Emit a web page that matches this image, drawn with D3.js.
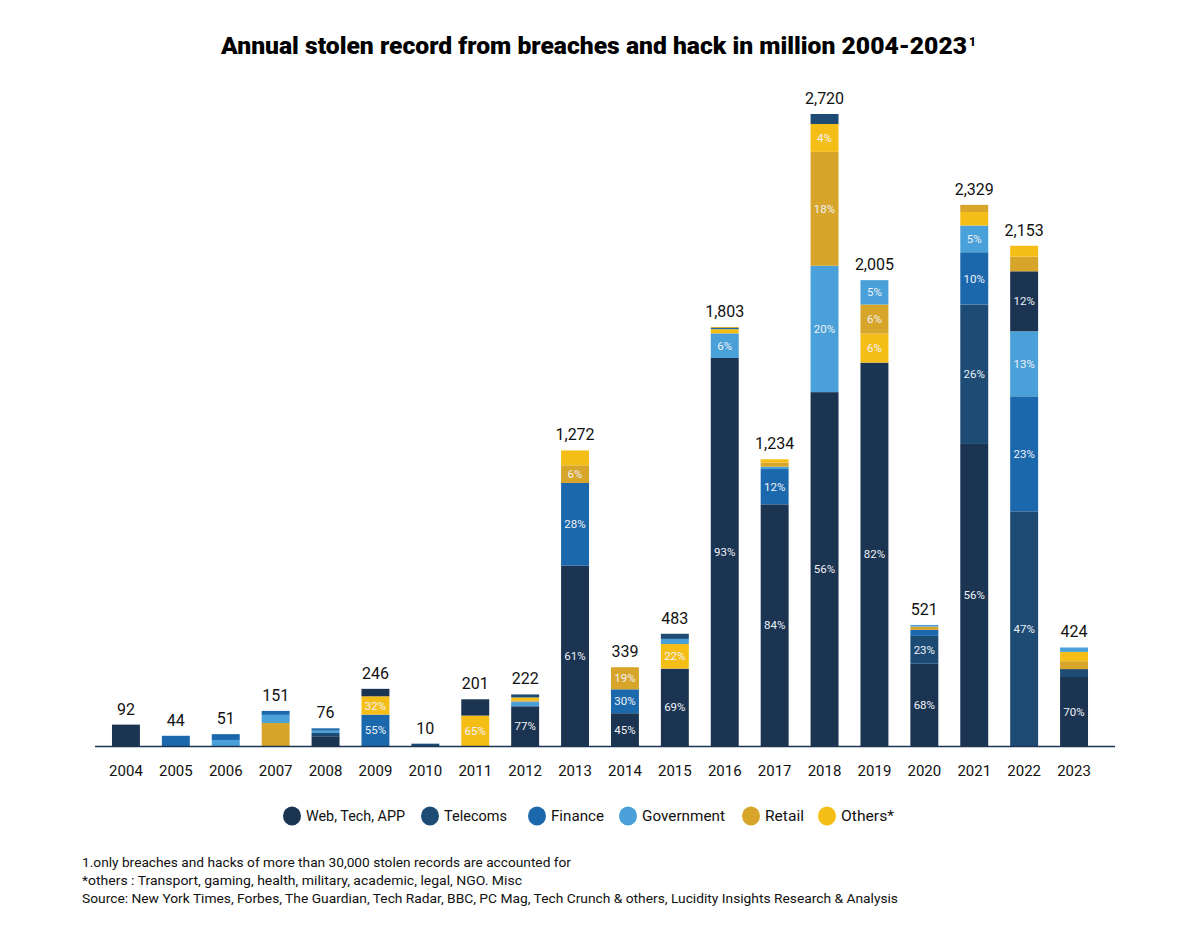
<!DOCTYPE html>
<html><head><meta charset="utf-8">
<script src="https://cdn.jsdelivr.net/npm/d3@7"></script>
<style>body{margin:0;background:#fff}</style>
</head><body><svg id="c" width="1200" height="931"></svg>
<script>
// ---- data ----
const years = ["2004","2005","2006","2007","2008","2009","2010","2011","2012","2013","2014","2015","2016","2017","2018","2019","2020","2021","2022","2023"];
const categories = ["Web, Tech, APP","Telecoms","Finance","Government","Retail","Others*"];
const keys = ["web","telecom","finance","gov","retail","others"];
const colors = ["#1b3452","#1d4b74","#1c68ad","#4aa0d8","#d7a52a","#f5be17"];
const web     = [92, 0, 0, 0, 42, 32, 0, 70, 171, 776, 141, 333, 1670, 1040, 1523, 1650, 354, 1300, 258, 297];
const telecom = [0, 0, 0, 0, 14, 0, 10, 0, 13, 0, 0, 22, 0, 0, 43, 0, 120, 600, 1010, 34];
const finance = [0, 44, 25, 17, 10, 135, 0, 0, 0, 356, 103, 0, 5, 152, 0, 0, 26, 225, 495, 0];
const gov     = [0, 0, 26, 35, 10, 0, 0, 0, 20, 0, 0, 22, 106, 10, 544, 105, 7, 115, 280, 19];
const retail  = [0, 0, 0, 99, 0, 0, 0, 0, 6, 76, 95, 0, 4, 18, 490, 125, 14, 31, 63, 34];
const others  = [0, 0, 0, 0, 0, 79, 0, 131, 12, 64, 0, 106, 18, 14, 120, 125, 0, 58, 47, 40];
const totals  = [92, 44, 51, 151, 76, 246, 10, 201, 222, 1272, 339, 483, 1803, 1234, 2720, 2005, 521, 2329, 2153, 424];
const totalLabels = ["92","44","51","151","76","246","10","201","222","1,272","339","483","1,803","1,234","2,720","2,005","521","2,329","2,153","424"];
// stacking order bottom -> top for each year
const stackOrder = [
  ["web"],["finance"],["gov","finance"],["retail","gov","finance"],["web","telecom","gov","finance"],
  ["finance","others","web"],["telecom"],["others","web"],["web","gov","retail","others","telecom"],
  ["web","finance","retail","others"],["web","finance","retail"],["web","others","gov","telecom"],
  ["web","gov","others","finance","retail"],["web","finance","gov","retail","others"],
  ["web","gov","retail","others","telecom"],["web","others","retail","gov"],
  ["web","telecom","finance","retail","gov"],["web","telecom","finance","gov","others","retail"],
  ["telecom","finance","gov","web","retail","others"],["web","telecom","retail","others","gov"]
];
// percentage labels shown inside segments: [year, key, text]
const pctLabels = [
  ["2009","finance","55%"],["2009","others","32%"],["2011","others","65%"],["2012","web","77%"],
  ["2013","web","61%"],["2013","finance","28%"],["2013","retail","6%"],
  ["2014","web","45%"],["2014","finance","30%"],["2014","retail","19%"],
  ["2015","web","69%"],["2015","others","22%"],["2016","web","93%"],["2016","gov","6%"],
  ["2017","web","84%"],["2017","finance","12%"],
  ["2018","web","56%"],["2018","gov","20%"],["2018","retail","18%"],["2018","others","4%"],
  ["2019","web","82%"],["2019","others","6%"],["2019","retail","6%"],["2019","gov","5%"],
  ["2020","web","68%"],["2020","telecom","23%"],
  ["2021","web","56%"],["2021","telecom","26%"],["2021","finance","10%"],["2021","gov","5%"],
  ["2022","telecom","47%"],["2022","finance","23%"],["2022","gov","13%"],["2022","web","12%"],
  ["2023","web","70%"]
];
const title = "Annual stolen record from breaches and hack in million 2004-2023";
const footnotes = [
  "1.only breaches and hacks of more than 30,000 stolen records are accounted for",
  "*others : Transport, gaming, health, military, academic, legal, NGO. Misc",
  "Source: New York Times, Forbes, The Guardian, Tech Radar, BBC, PC Mag, Tech Crunch & others, Lucidity Insights Research & Analysis"
];

// ---- chart ----
const series = {web, telecom, finance, gov, retail, others};
const colorOf = d3.scaleOrdinal().domain(keys).range(colors);
const svg = d3.select("#c");
const font = "Roboto, 'Liberation Sans', Arial, sans-serif";

const x = d3.scaleBand().domain(years).range([101, 1099]).paddingInner(0.44).paddingOuter(0.22);
const y = d3.scaleLinear().domain([0, 2720]).range([746, 114]);

// segments
const segs = [];
years.forEach((yr, i) => {
  let acc = 0;
  stackOrder[i].forEach(k => {
    const v = series[k][i];
    if (v > 0) { segs.push({yr, k, y0: acc, y1: acc + v}); acc += v; }
  });
});

svg.append("g").selectAll("rect").data(segs).join("rect")
  .attr("x", d => x(d.yr)).attr("width", x.bandwidth())
  .attr("y", d => y(d.y1)).attr("height", d => y(d.y0) - y(d.y1))
  .attr("fill", d => colorOf(d.k));

// percent labels
const segLookup = new Map(segs.map(s => [s.yr + "|" + s.k, s]));
svg.append("g").selectAll("text").data(pctLabels).join("text")
  .attr("x", d => x(d[0]) + x.bandwidth() / 2)
  .attr("y", d => { const s = segLookup.get(d[0] + "|" + d[1]); return y((s.y0 + s.y1) / 2); })
  .attr("dy", "0.36em").attr("text-anchor", "middle")
  .attr("font-family", font).attr("font-size", 11.5).attr("fill", "#eef2f7")
  .text(d => d[2]);

// totals
svg.append("g").selectAll("text").data(years).join("text")
  .attr("x", d => x(d) + x.bandwidth() / 2)
  .attr("y", (d, i) => y(totals[i]) - 10)
  .attr("text-anchor", "middle").attr("font-family", font).attr("font-size", 16).attr("fill", "#111")
  .text((d, i) => totalLabels[i]);

// axis
const axis = svg.append("g").attr("transform", "translate(0,746)")
  .call(d3.axisBottom(x).tickSize(0).tickPadding(19));
axis.select(".domain").attr("d", "M95,0.5H1115").attr("stroke", "#1b3452").attr("stroke-width", 1.5);
axis.selectAll("text").attr("font-family", font).attr("font-size", 15).attr("fill", "#111");

// title
svg.append("text").attr("x", 221).attr("y", 54)
  .attr("font-family", font).attr("font-weight", 900).attr("font-size", 23).attr("fill", "#000")
  .attr("textLength", 746).attr("lengthAdjust", "spacingAndGlyphs").text(title);
svg.append("text").attr("x", 969).attr("y", 46)
  .attr("font-family", font).attr("font-weight", 900).attr("font-size", 12).attr("fill", "#000").text("1");

// legend
const legX = [292, 430, 537, 628, 751, 827];
const legW = [99, 63, 53, 83, 39, 53];
const leg = svg.append("g").selectAll("g").data(categories).join("g")
  .attr("transform", (d, i) => `translate(${legX[i]},816)`);
leg.append("ellipse").attr("rx", 9).attr("ry", 9.5).attr("fill", (d, i) => colors[i]);
leg.append("text").attr("x", 14).attr("dy", "0.35em")
  .attr("font-family", font).attr("font-size", 15).attr("fill", "#111")
  .attr("textLength", (d, i) => legW[i]).attr("lengthAdjust", "spacingAndGlyphs")
  .text(d => d);

// footnotes
const footW = [489, 440, 816];
svg.append("g").selectAll("text").data(footnotes).join("text")
  .attr("x", 82).attr("y", (d, i) => 867 + i * 18)
  .attr("font-family", font).attr("font-size", 13).attr("fill", "#111")
  .attr("textLength", (d, i) => footW[i]).attr("lengthAdjust", "spacingAndGlyphs")
  .text(d => d);
</script></body></html>
